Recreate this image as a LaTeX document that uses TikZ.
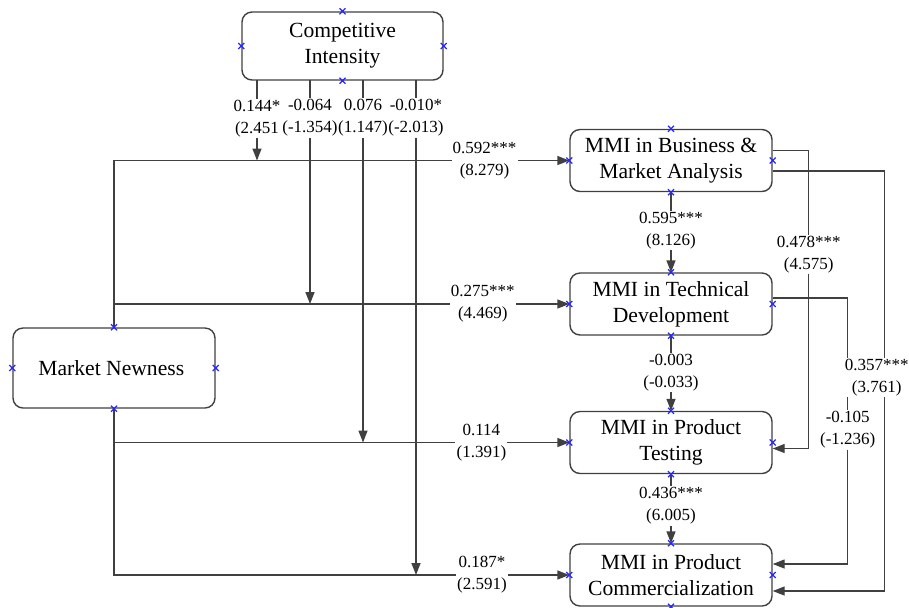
\documentclass[tikz,border=0pt]{standalone}
\usepackage{fontspec}
\setmainfont{Liberation Serif}
\usetikzlibrary{positioning,calc,arrows.meta}
\tikzstyle{construct} = [ draw=black!75, rounded corners=5pt, line width=0.7pt, align=center, inner sep=2pt, minimum width=101pt, minimum height=31pt, font=\fontsize{10.8}{13}\selectfont]
\tikzstyle{edge} = [-{Triangle[length=6pt,width=4.5pt]}, draw=black!75, line width=0.7pt]
\tikzstyle{coef} = [ fill=white, inner sep=0.6pt, align=center, font=\fontsize{8.5}{11}\selectfont]
\tikzstyle{anchormark} = [ draw=blue!85, line width=0.6pt]
\newcommand{\xpts}[1]{\foreach \a in {north,south,east,west} {\draw[anchormark] (#1.\a) +(-3,-3) -- +(3,3) +(-3,3) -- +(3,-3);}}

\begin{document}
\begin{tikzpicture}[x=0.5pt,y=-0.5pt]
	\useasboundingbox (0,0) rectangle (909,607);

	\node[construct, minimum width=100.5pt, minimum height=34pt] (ci) at ( 342.5, 46 ) { Competitive\\Intensity };
	\node[construct, minimum height=40pt] (mn) at ( 114, 368 ) { Market Newness };
	\node[construct] (bma) at ( 671, 160.5 ) { MMI in Business \&\\Market Analysis };
	\node[construct] (td) at ( 671, 304 ) { MMI in Technical\\Development };
	\node[construct] (pt) at ( 671, 442.5 ) { MMI in Product\\Testing };
	\node[construct] (pc) at ( 671, 575 ) { MMI in Product\\Commercialization };

	\coordinate (m1) at ( 257, 80 );
	\coordinate (m2) at ( 310, 80 );
	\coordinate (m3) at ( 363, 80 );
	\coordinate (m4) at ( 416, 80 );
	\coordinate (jt) at (mn.north |- td.west);
	\coordinate (jp) at (mn.south |- pt.west);

	\draw[edge](mn.north) |- node[coef, pos=0.907] (c1) {0.592***\\(8.279)} (bma.west);
	\draw[edge](jt) -- node[coef, pos=0.81] (c2) {0.275***\\(4.469)} (td.west);
	\draw[edge](jp) -- node[coef, pos=0.807] (c3) {0.114\\(1.391)} (pt.west);
	\draw[edge](mn.south) |- node[coef, pos=0.904] (c4) {0.187*\\(2.591)} (pc.west);

	\draw[edge](m1) -- node[coef, pos=0.475] (k1) {0.144*\\(2.451} (m1 |- bma.west);
	\draw[edge](m2) -- node[coef, pos=0.17] (k2) {-0.064\\(-1.354)} (m2 |- td.west);
	\draw[edge](m3) -- node[coef, pos=0.105] (k3) {0.076\\(1.147)} (m3 |- pt.west);
	\draw[edge](m4) -- node[coef, pos=0.077] (k4) {-0.010*\\(-2.013)} (m4 |- pc.west);

	\draw[edge](bma.south) -- node[coef, pos=0.48] (v1) {0.595***\\(8.126)} (td.north);
	\draw[edge](td.south) -- node[coef, pos=0.49] (v2) {-0.003\\(-0.033)} (pt.north);
	\draw[edge](pt.south) -- node[coef, pos=0.46] (v3) {0.436***\\(6.005)} (pc.north);

	\draw[edge]($(td.east)+(0,-6)$) -- ++(75,0) |- node[coef, pos=0.248] (r3) {-0.105\\(-1.236)} ($(pc.east)+(0,-11)$);
	\draw[edge]($(bma.east)+(0,-10)$) -- ++(36,0) |- node[coef, pos=0.175] (r1) {0.478***\\(4.575)} ($(pt.east)+(0,6)$);
	\draw[edge]($(bma.east)+(0,10.5)$) -- ++(112,0) |- node[coef, pos=0.246, xshift=-4pt] (r2) {0.357***\\(3.761)} ($(pc.east)+(0,16)$);

	\xpts{ci} \xpts{mn} \xpts{bma} \xpts{td} \xpts{pt} \xpts{pc}
\end{tikzpicture}
\end{document}
